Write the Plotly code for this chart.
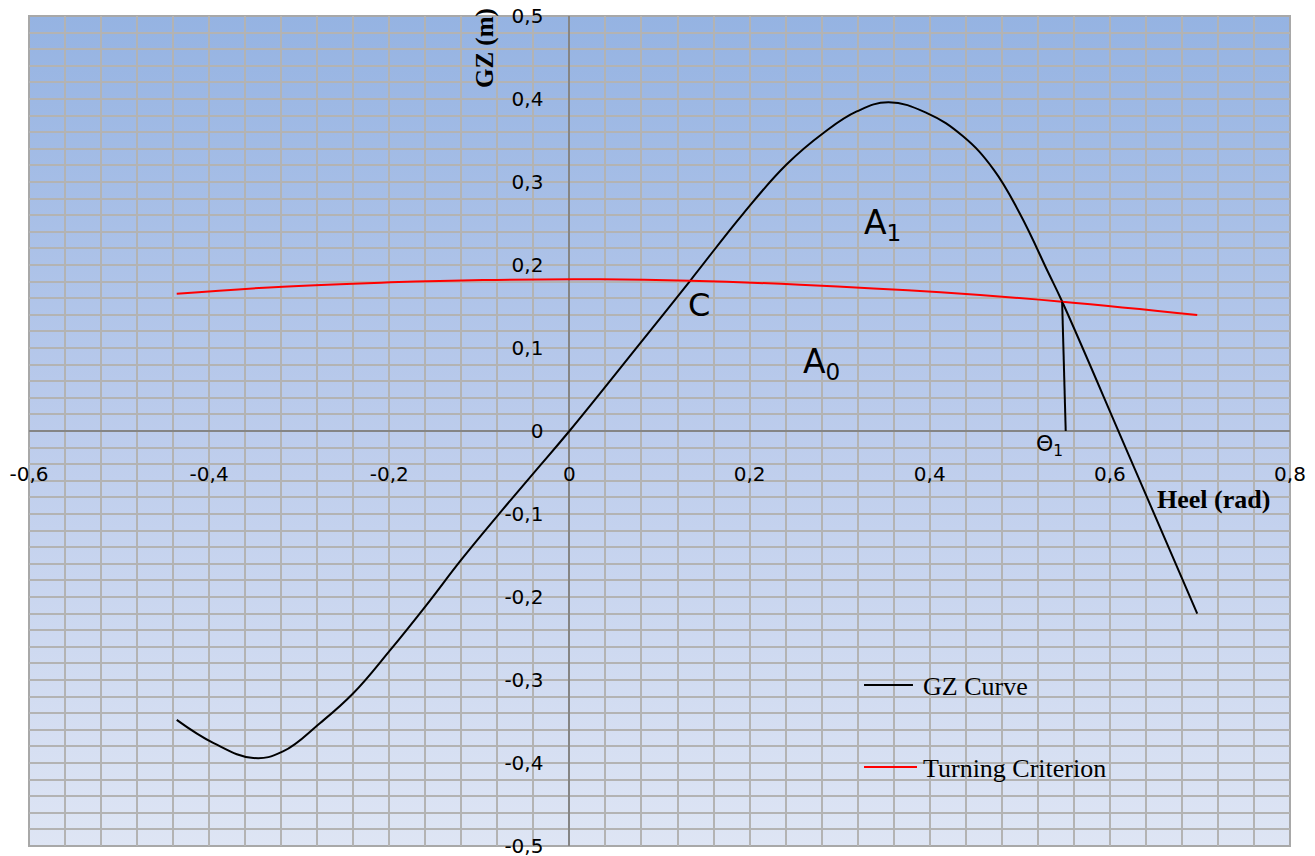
import base64
import plotly.graph_objects as go

# GZ righting-lever curve (heel in rad, GZ in m)
gz_heel = [-0.436, -0.395, -0.351, -0.318, -0.277, -0.240, -0.199, -0.159, -0.120,
           -0.079, -0.040, 0.000, 0.078, 0.134, 0.193, 0.241, 0.282, 0.319, 0.354,
           0.397, 0.437, 0.471, 0.500, 0.532, 0.547, 0.621, 0.697]
gz_value = [-0.348, -0.376, -0.394, -0.386, -0.352, -0.316, -0.264, -0.210, -0.155,
            -0.101, -0.051, 0.000, 0.105, 0.181, 0.262, 0.321, 0.359, 0.385, 0.396,
            0.383, 0.355, 0.315, 0.262, 0.190, 0.156, -0.029, -0.220]

# Turning heeling-lever criterion
turn_heel = [-0.436, -0.318, -0.199, -0.096, 0.034, 0.134, 0.256, 0.412, 0.547, 0.697]
turn_value = [0.1654, 0.1739, 0.1791, 0.1819, 0.1827, 0.1810, 0.1763, 0.1671, 0.1558, 0.1398]

# Equilibrium heel marker Θ1
theta_heel = [0.547, 0.551]
theta_value = [0.156, 0.0]

x_ticks = [-0.6, -0.4, -0.2, 0.0, 0.2, 0.4, 0.6, 0.8]
y_ticks = [-0.5, -0.4, -0.3, -0.2, -0.1, 0.0, 0.1, 0.2, 0.3, 0.4, 0.5]


def comma(v):
    return "0" if v == 0 else f"{v:g}".replace(".", ",")


x_labels = [comma(v) for v in x_ticks]
y_labels = [comma(v) for v in y_ticks]

X_RANGE = [-0.6, 0.8]
Y_RANGE = [-0.5, 0.5]

GRID = "#b3b3b3"
AXIS = "#858585"
SANS = "DejaVu Sans"
SERIF = "Liberation Serif"

fig = go.Figure()

fig.add_trace(go.Scatter(x=gz_heel, y=gz_value, mode="lines", name="GZ Curve",
                         line=dict(color="black", width=2, shape="spline", smoothing=1.2),
                         showlegend=False, hoverinfo="x+y"))
fig.add_trace(go.Scatter(x=turn_heel, y=turn_value, mode="lines", name="Turning Criterion",
                         line=dict(color="#ff0000", width=2, shape="spline", smoothing=1.2),
                         showlegend=False, hoverinfo="x+y"))
fig.add_trace(go.Scatter(x=theta_heel, y=theta_value, mode="lines", name="Θ1",
                         line=dict(color="black", width=2),
                         showlegend=False, hoverinfo="x+y"))

# vertical blue gradient behind the grid
svg = ('<svg xmlns="http://www.w3.org/2000/svg" width="100" height="100" '
       'preserveAspectRatio="none"><defs><linearGradient id="g" x1="0" y1="0" x2="0" y2="1">'
       '<stop offset="0" stop-color="#95B3E2"/><stop offset="0.5" stop-color="#BCCCEC"/>'
       '<stop offset="1" stop-color="#DEE5F4"/></linearGradient></defs>'
       '<rect width="100" height="100" fill="url(#g)"/></svg>')
bg_uri = "data:image/svg+xml;base64," + base64.b64encode(svg.encode()).decode()

tick_font = dict(family=SANS, size=20, color="black")

fig.update_layout(
    width=1315, height=856,
    margin=dict(l=29, r=25, t=16, b=10, pad=0, autoexpand=False),
    paper_bgcolor="white",
    plot_bgcolor="#C8D5EF",
    images=[dict(source=bg_uri, xref="paper", yref="paper", x=0, y=1,
                 sizex=1, sizey=1, xanchor="left", yanchor="top",
                 sizing="stretch", layer="below")],
    xaxis=dict(range=X_RANGE, anchor="free", position=0.5, automargin=False,
               tickmode="array", tickvals=x_ticks, ticktext=x_labels,
               ticks="outside", ticklen=25, tickcolor="rgba(0,0,0,0)",
               tickfont=tick_font, ticklabeloverflow="allow",
               showgrid=True, gridcolor=GRID, gridwidth=2,
               minor=dict(tick0=-0.6, dtick=0.04, showgrid=True, gridcolor=GRID, gridwidth=2),
               zeroline=True, zerolinecolor=AXIS, zerolinewidth=2,
               showline=False, fixedrange=True),
    yaxis=dict(range=Y_RANGE, anchor="free", position=0.6 / 1.4, automargin=False,
               tickmode="array", tickvals=y_ticks, ticktext=y_labels,
               ticks="outside", ticklen=22, tickcolor="rgba(0,0,0,0)",
               tickfont=tick_font, ticklabeloverflow="allow",
               showgrid=True, gridcolor=GRID, gridwidth=2,
               minor=dict(tick0=-0.5, dtick=0.02, showgrid=True, gridcolor=GRID, gridwidth=2),
               zeroline=True, zerolinecolor=AXIS, zerolinewidth=2,
               showline=False, fixedrange=True),
    showlegend=False,
)

# plot-area frame
fig.add_shape(type="rect", xref="paper", yref="paper", x0=0, y0=0, x1=1, y1=1,
              line=dict(color="#a8a8a8", width=2), layer="between")

# legend drawn inside the plot
legend_items = [("GZ Curve", "black", 0.194, 0.7010), ("Turning Criterion", "#ff0000", 0.0952, 0.7042)]
for label, color, ly, lx1 in legend_items:
    fig.add_shape(type="line", xref="paper", yref="paper", x0=0.6622, x1=lx1, y0=ly, y1=ly,
                  line=dict(color=color, width=2), layer="above")
    fig.add_annotation(xref="paper", yref="paper", x=0.7075, y=ly - 0.002, text=label,
                       showarrow=False, xanchor="left", yanchor="middle",
                       font=dict(family=SERIF, size=26, color="black"))

# axis titles
fig.add_annotation(x=-0.0937, y=0.4614, text="<b>GZ (m)</b>", textangle=-90,
                   showarrow=False, font=dict(family=SERIF, size=25, color="black"))
fig.add_annotation(x=0.7147, y=-0.0831, text="<b>Heel (rad)</b>",
                   showarrow=False, font=dict(family=SERIF, size=26, color="black"))

# region / point labels
fig.add_annotation(x=0.3478, y=0.2494, text="A<sub>1</sub>", showarrow=False,
                   font=dict(family=SANS, size=33, color="black"))
fig.add_annotation(x=0.2804, y=0.0819, text="A<sub>0</sub>", showarrow=False,
                   font=dict(family=SANS, size=33, color="black"))
fig.add_annotation(x=0.1438, y=0.1518, text="C", showarrow=False,
                   font=dict(family=SANS, size=32, color="black"))
fig.add_annotation(x=0.5325, y=-0.018, text="Θ<sub>1</sub>", showarrow=False,
                   font=dict(family=SANS, size=22, color="black"))

fig.write_html("out.html")
